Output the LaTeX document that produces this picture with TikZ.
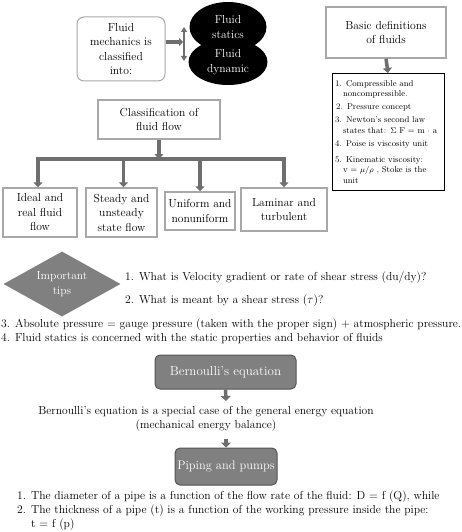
\documentclass[tikz,border=0pt]{standalone}
\usepackage{amsmath}
\usetikzlibrary{shapes.geometric,arrows.meta}
\definecolor{boxgray}{HTML}{A8A8A8}
\definecolor{arrgray}{HTML}{6E6E6E}
\definecolor{fillgray}{HTML}{808080}
\definecolor{edgegray}{HTML}{555555}
\begin{document}
\begin{tikzpicture}[x=1pt,y=-1pt,
  every node/.style={font=\fontsize{11.6}{14.5}\selectfont, inner sep=0pt, align=center},
  graybox/.style={draw=boxgray, line width=1.4pt, fill=white},
  roundbox/.style={draw=boxgray, line width=1pt, rounded corners=7pt},
  darkbox/.style={draw=edgegray, line width=1pt, fill=fillgray, rounded corners=5pt, text=white},
  blob/.style={ellipse, fill=black, text=white},
  fat/.style={draw=arrgray, line width=3.5pt, -{Triangle[width=9pt,length=5pt]}},
  fatsmall/.style={draw=arrgray, line width=3.5pt, -{Triangle[width=10pt,length=5pt]}},
  twoway/.style={draw=arrgray, line width=2pt, {Triangle[width=6pt,length=5pt]}-{Triangle[width=6pt,length=5pt]}},
  plain/.style={anchor=west, align=left}
]
\useasboundingbox (0,0) rectangle (462,532);

% Fluid mechanics
\node[roundbox, minimum width=88pt, minimum height=64pt] (fm) at (121,49) {Fluid\\mechanics is\\classified\\into:};
\node[blob, minimum width=77pt, minimum height=50pt] (st) at (228,27) {Fluid\\statics};
\node[blob, minimum width=79pt, minimum height=46pt] (dy) at (228,62) {Fluid\\dynamic};
\coordinate (vtop) at (184,27);
\coordinate (vbot) at (184,61);
\coordinate (vmid) at (183,42);
\draw[twoway] (vtop) -- (vbot);
\draw[draw=arrgray, line width=3.5pt, -{Triangle[width=8pt,length=4pt]}] (fm.east |- vmid) -- (vmid);

% Basic definitions
\node[graybox, minimum width=120pt, minimum height=51pt] (bd) at (386,32.5) {Basic definitions\\of fluids};
\node[draw=black, line width=0.8pt, anchor=north, minimum width=112pt, minimum height=117pt, text width=106pt, align=left, inner sep=3pt,
  font=\fontsize{8.5}{10.4}\selectfont] (defs) at (388,73) {%
  1. Compressible and\\
  \hspace*{8pt}noncompressible.\\[2.5pt]
  \hspace*{1pt}2. Pressure concept\\[2.5pt]
  3. Newton's second law\\
  \hspace*{8pt}states that: $\Sigma$ F = m $\cdot$ a\\[3.5pt]
  4. Poise is viscosity unit\\[5pt]
  5. Kinematic viscosity:\\
  \hspace*{8pt}v = $\mu/\rho$ , Stoke is the\\
  \hspace*{8pt}unit};
\draw[fat] (bd.south) -- (defs.north);

% Classification
\node[graybox, minimum width=122pt, minimum height=39pt] (cls) at (159,119.5) {Classification of\\fluid flow};
\node[graybox, minimum width=74pt, minimum height=49pt] (b1) at (40,212.5) {Ideal and\\real fluid\\flow};
\node[graybox, minimum width=71pt, minimum height=49pt] (b2) at (121.5,212.5) {Steady and\\unsteady\\state flow};
\node[graybox, minimum width=70pt, minimum height=38pt] (b3) at (200,211) {Uniform and\\nonuniform};
\node[graybox, minimum width=86pt, minimum height=43pt] (b4) at (284,209.5) {Laminar and\\turbulent};
\coordinate (barL) at (38,159);
\coordinate (barR) at (284,159);
\coordinate (barM) at (159,159);
\draw[draw=arrgray, line width=4pt] ([xshift=-2pt]barL) -- ([xshift=2pt]barR);
\draw[fat] (cls.south) -- (barM);
\draw[fat] (barL) -- (barL |- b1.north);
\draw[fat] ([xshift=2pt]barM -| b2.north) -- ([xshift=2pt]b2.north);
\draw[fat] (barM -| b3.north) -- (b3.north);
\draw[fat] (barR) -- (barR |- b4.north);

% Important tips
\node[diamond, fill=fillgray, text=white, minimum width=117pt, minimum height=65pt, aspect=1.8] (tips) at (62,284) {Important\\tips};
\node[plain] (t1) at (125,278) {1. What is Velocity gradient or rate of shear stress (du/dy)?};
\node[plain] (t2) at (125,301) {2. What is meant by a shear stress ($\tau$)?};
\node[plain] (t3) at (1,325) {3. Absolute pressure = gauge pressure (taken with the proper sign) + atmospheric pressure.};
\node[plain] (t4) at (1,339) {4. Fluid statics is concerned with the static properties and behavior of fluids};

% Bernoulli
\node[darkbox, minimum width=141pt, minimum height=34pt, font=\fontsize{13}{15}\selectfont] (bern) at (225.5,372) {Bernoulli's equation};
\node (btext) at (206,419) {Bernoulli's equation is a special case of the general energy equation\\(mechanical energy balance)};
\node[darkbox, minimum width=102pt, minimum height=37pt, font=\fontsize{12.4}{15}\selectfont] (pipe) at (226,466.5) {Piping and pumps};
\coordinate (a1end) at (226,401);
\coordinate (a2beg) at (226,439);
\draw[fatsmall] (bern.south) -- (a1end);
\draw[fatsmall] (a2beg) -- (pipe.north);

\node[plain] (p1) at (17,497) {1. The diameter of a pipe is a function of the flow rate of the fluid: D = f (Q), while};
\node[plain] (p2) at (17,511) {2. The thickness of a pipe (t) is a function of the working pressure inside the pipe:};
\node[plain] (p3) at (31,525) {t = f (p)};
\end{tikzpicture}
\end{document}
